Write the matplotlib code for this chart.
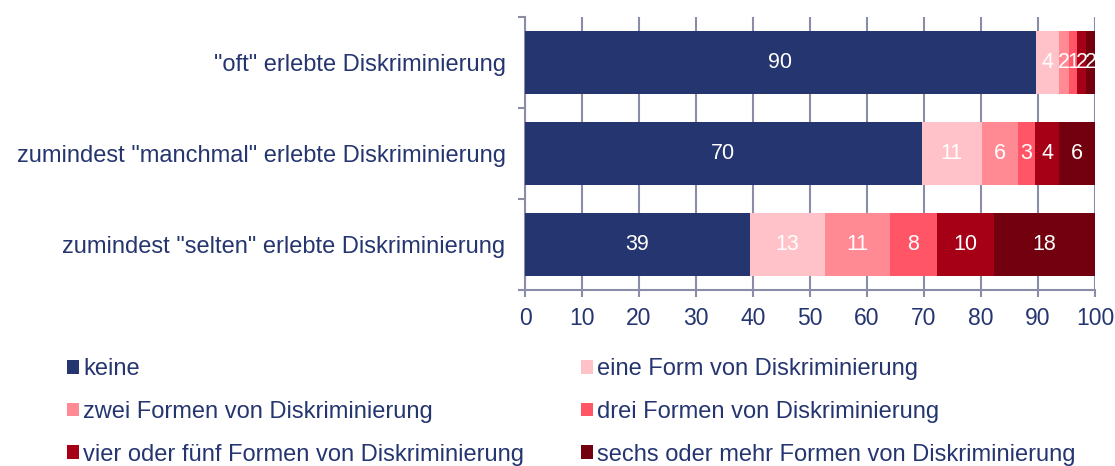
import matplotlib
matplotlib.use("Agg")
import matplotlib.pyplot as plt
import numpy as np

plt.rcParams['font.family'] = ['Liberation Sans', 'DejaVu Sans']

categories = ['"oft" erlebte Diskriminierung',
              'zumindest "manchmal" erlebte Diskriminierung',
              'zumindest "selten" erlebte Diskriminierung']
series_names = ['keine', 'eine Form von Diskriminierung', 'zwei Formen von Diskriminierung',
                'drei Formen von Diskriminierung', 'vier oder fünf Formen von Diskriminierung',
                'sechs oder mehr Formen von Diskriminierung']
keine = [89.6, 69.6, 39.4]
eine = [4.0, 10.6, 13.3]
zwei = [1.9, 6.3, 11.3]
drei = [1.4, 3.0, 8.3]
vier = [1.6, 4.2, 10.0]
sechs = [1.5, 6.3, 17.7]
colors = ['#253570', '#FFC2C8', '#FF8A94', '#FF5566', '#A50016', '#72000F']
xticks = [0, 10, 20, 30, 40, 50, 60, 70, 80, 90, 100]

navy = '#253570'
gridc = '#8A8CA8'

fig = plt.figure(figsize=(11.15, 4.66), dpi=100)
ax = fig.add_axes([525/1115, 1 - 290/466, 570/1115, 273/466])

y = np.arange(len(categories))
left = np.zeros(len(categories))
handles = []
for name, vals, c in zip(series_names, [keine, eine, zwei, drei, vier, sechs], colors):
    vals = np.array(vals)
    bars = ax.barh(y, vals, left=left, height=0.7, color=c, label=name, zorder=3)
    handles.append(bars)
    for yi, l, v in zip(y, left, vals):
        ax.text(l + v / 2, yi, f"{v:.0f}", ha='center', va='center', color='white',
                fontsize=15.5, zorder=4)
    left += vals

ax.set_ylim(2.5, -0.5)
ax.set_xlim(0, 100)
ax.set_xticks(xticks)
ax.set_xticklabels([str(t) for t in xticks], fontsize=16.5, color=navy)
ax.set_yticks([-0.5, 0.5, 1.5, 2.5], minor=False)
ax.set_yticklabels([])
ax.set_yticks(y, minor=True)
ax.set_yticklabels(categories, minor=True, fontsize=17, color=navy)
ax.tick_params(axis='y', which='minor', length=0, pad=14)
ax.tick_params(axis='y', which='major', length=5, color=gridc, width=1.5)
ax.tick_params(axis='x', length=5, color=gridc, width=1.5, pad=7)
ax.grid(axis='x', color=gridc, linewidth=1.5, zorder=0)
for s in ['top', 'right']:
    ax.spines[s].set_visible(False)
for s in ['left', 'bottom']:
    ax.spines[s].set_color(gridc)
    ax.spines[s].set_linewidth(1.5)

order = [0, 2, 4, 1, 3, 5]
leg = fig.legend([handles[i] for i in order], [series_names[i] for i in order],
                 ncol=2, loc='upper left', bbox_to_anchor=(58/1115, 1 - 349/466),
                 frameon=False, fontsize=17, handlelength=0.5, handleheight=0.5,
                 handletextpad=0.17, columnspacing=2.4, labelspacing=0.87,
                 labelcolor=navy, borderaxespad=0)

fig.savefig('out.png', dpi=100)
